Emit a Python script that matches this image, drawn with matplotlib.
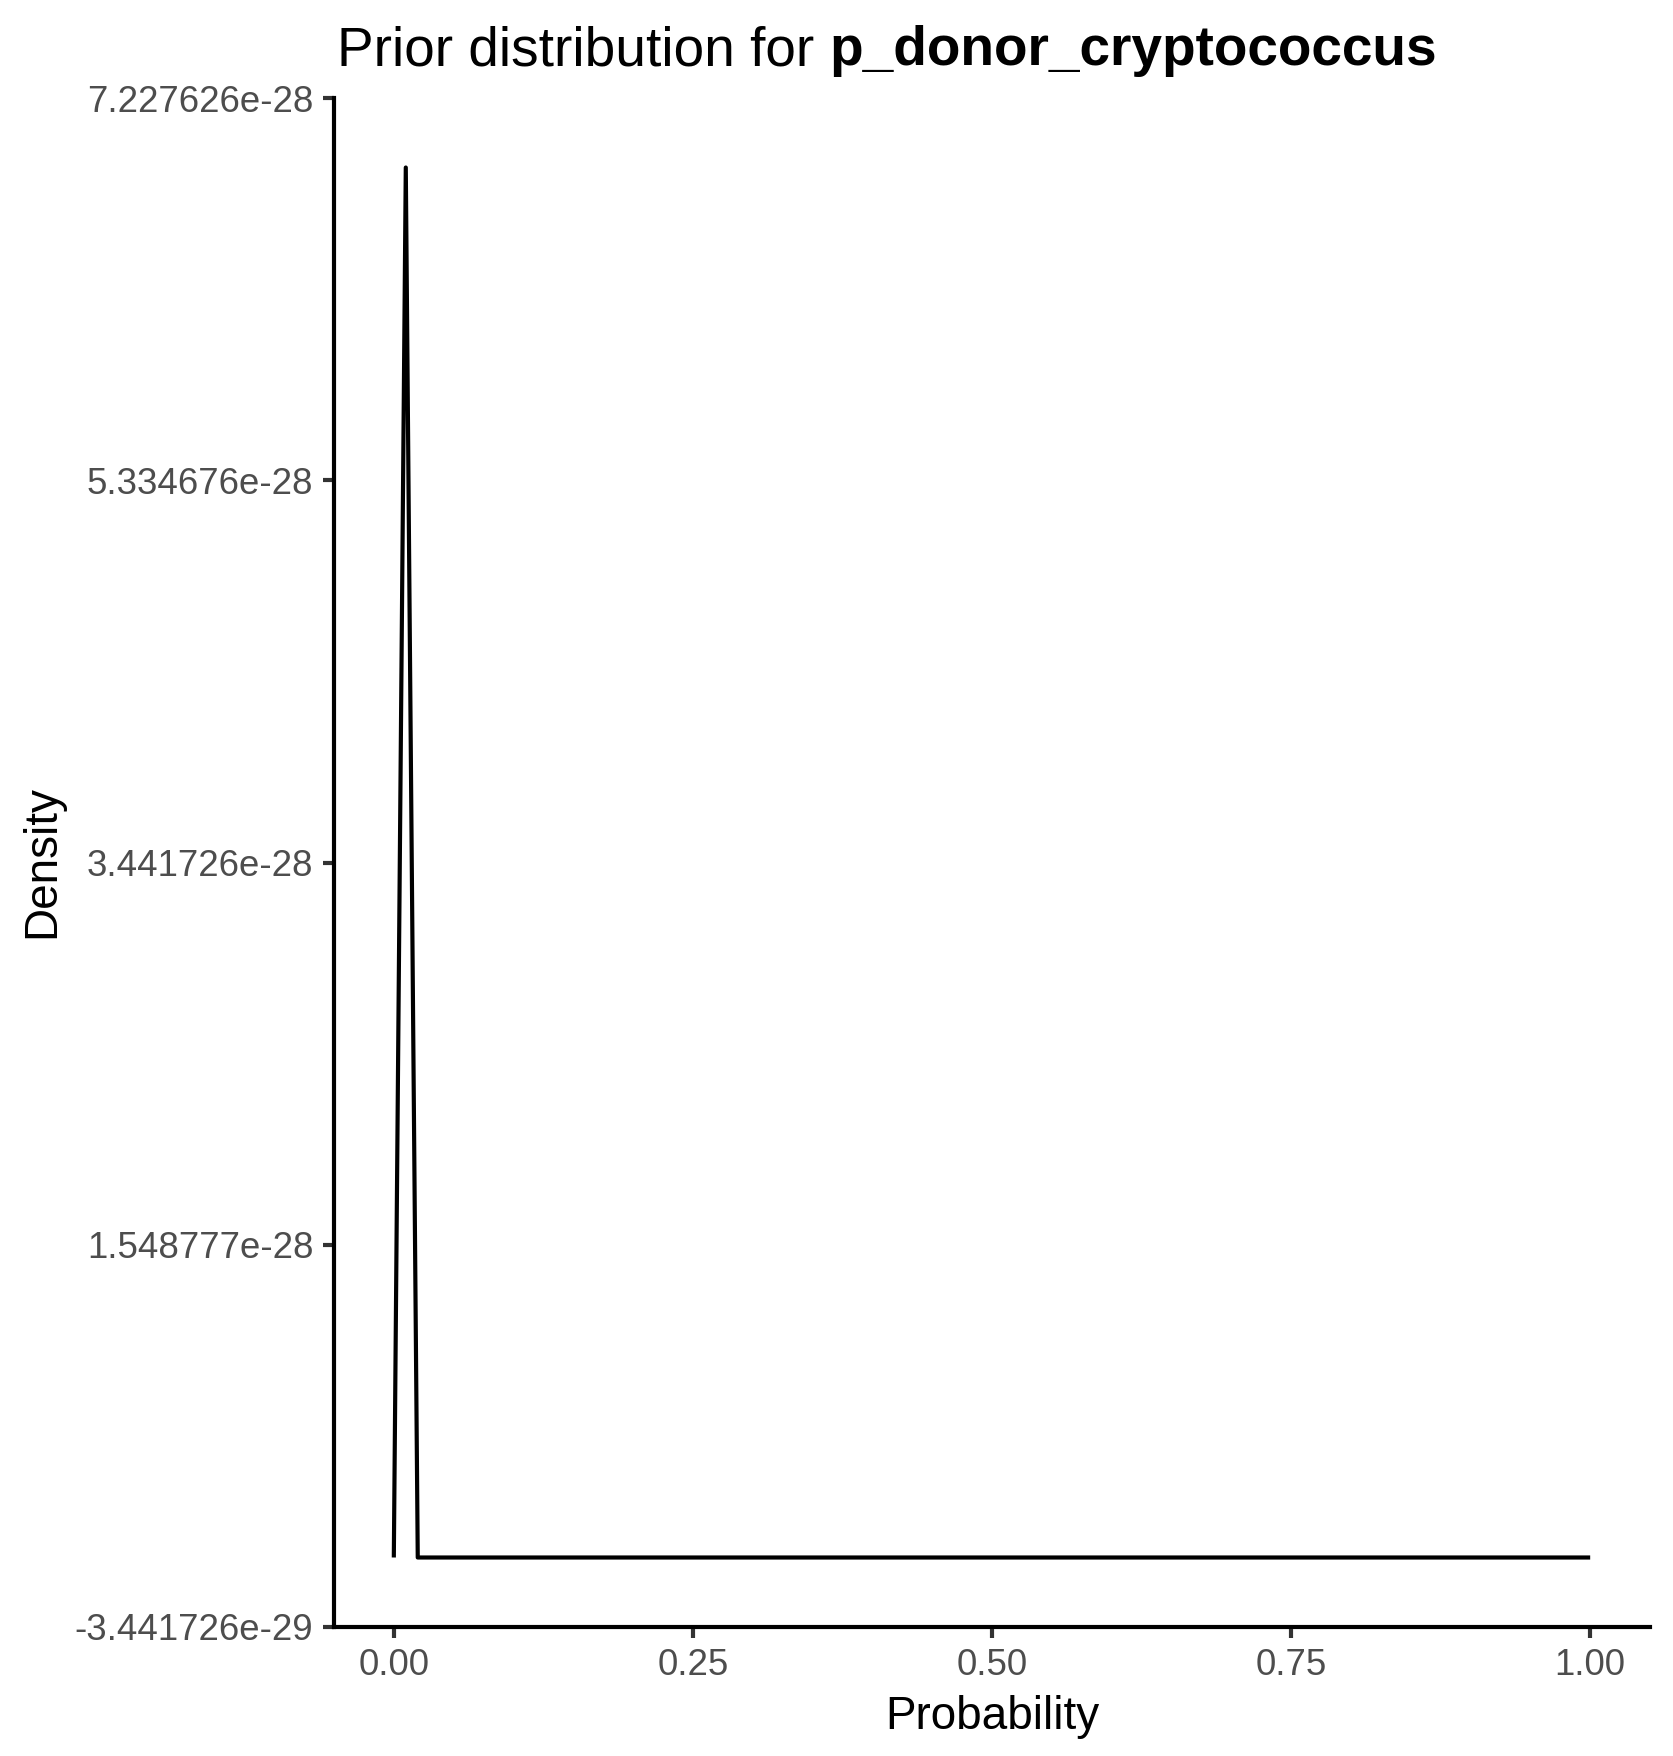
import matplotlib.pyplot as plt

plt.rcParams["font.family"] = ["Liberation Sans", "DejaVu Sans"]

# density curve points (grid step 0.01, all values past 0.02 are zero)
prob = [0.0, 0.01, 0.02, 1.0]
density = [0.0, 6.883453e-28, 0.0, 0.0]

y_breaks = [-3.441726e-29, 1.548777e-28, 3.441726e-28, 5.334676e-28, 7.227626e-28]
y_labels = ["-3.441726e-29", "1.548777e-28", "3.441726e-28", "5.334676e-28", "7.227626e-28"]
x_breaks = [0.0, 0.25, 0.5, 0.75, 1.0]
x_labels = ["0.00", "0.25", "0.50", "0.75", "1.00"]

fig = plt.figure(figsize=(1673 / 300, 1756 / 300), dpi=300)
ax = fig.add_axes([334 / 1673, 1 - 1627 / 1756, (1650 - 334) / 1673, (1627 - 98) / 1756])

ax.plot(prob, density, color="black", linewidth=1.0, solid_capstyle="butt")

ax.set_xlim(-0.05, 1.05)
ax.set_ylim(y_breaks[0], y_breaks[-1])
ax.set_xticks(x_breaks)
ax.set_xticklabels(x_labels)
ax.set_yticks(y_breaks)
ax.set_yticklabels(y_labels)

for side in ["top", "right"]:
    ax.spines[side].set_visible(False)
for side in ["left", "bottom"]:
    ax.spines[side].set_linewidth(1.0)
    ax.spines[side].set_color("black")

ax.tick_params(axis="both", length=2.75, width=1.0, color="#333333",
               labelcolor="#4D4D4D", labelsize=8.8, pad=2.2)

ax.set_xlabel("Probability", fontsize=11, color="black", labelpad=3)
ax.set_ylabel("Density", fontsize=11, color="black")
ax.yaxis.set_label_coords(42 / 1673, 1 - 862 / 1756, transform=fig.transFigure)
ax.yaxis.label.set_verticalalignment("center")

# title: plain part then bold part
t1 = fig.text(337 / 1673, 1 - 65 / 1756, "Prior distribution for ", fontsize=13.2,
              ha="left", va="baseline")
fig.canvas.draw()
bb = t1.get_window_extent()
fig.text(bb.x1 / fig.bbox.width, 1 - 65 / 1756, "p_donor_cryptococcus", fontsize=13.2,
         fontweight="bold", ha="left", va="baseline")

fig.savefig("out.png", dpi=300)
